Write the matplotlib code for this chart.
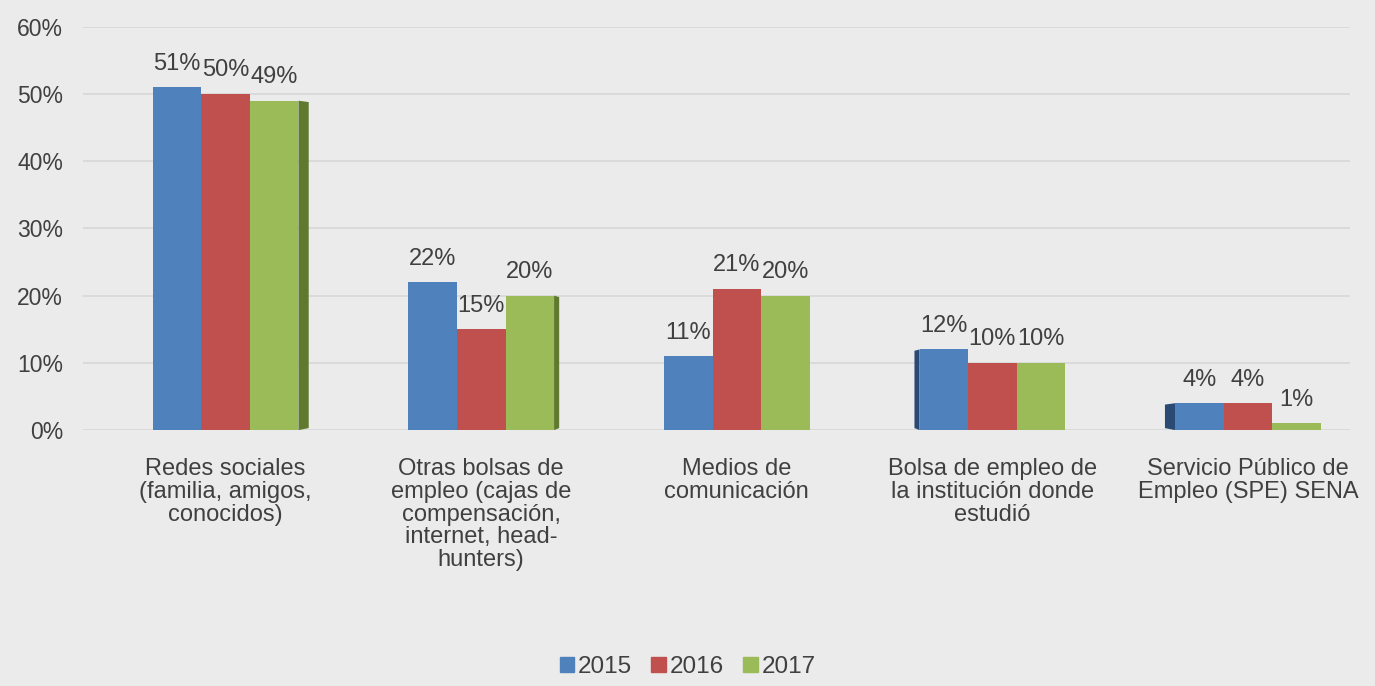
import matplotlib
matplotlib.use("Agg")
import matplotlib.pyplot as plt
from matplotlib.patches import Polygon
import numpy as np

plt.rcParams['font.family'] = ['Liberation Sans', 'DejaVu Sans']

categories = ["Redes sociales\n(familia, amigos,\nconocidos)",
              "Otras bolsas de\nempleo (cajas de\ncompensación,\ninternet, head-\nhunters)",
              "Medios de\ncomunicación",
              "Bolsa de empleo de\nla institución donde\nestudió",
              "Servicio Público de\nEmpleo (SPE) SENA"]
years = ["2015", "2016", "2017"]
v2015 = [0.51, 0.22, 0.11, 0.12, 0.04]
v2016 = [0.50, 0.15, 0.21, 0.10, 0.04]
v2017 = [0.49, 0.20, 0.20, 0.10, 0.01]
series = [v2015, v2016, v2017]

colors = ["#4f81bd", "#c0504d", "#9bbb59"]
dark = ["#2a4a75", "#8a2f2c", "#5f7a2e"]
bg = "#ebebeb"
txt = "#404040"

fig = plt.figure(figsize=(13.75, 6.86), dpi=100, facecolor=bg)
ax = fig.add_axes([0.06, 0.373, 0.922, 0.588], facecolor=bg)

x = np.arange(len(categories))
w = 0.19
for i, vals in enumerate(series):
    bars = ax.bar(x + (i - 1) * w, vals, w, color=colors[i], zorder=3)
    for j, b in enumerate(bars):
        h = b.get_height()
        ax.annotate("{:.0f}%".format(h * 100), (b.get_x() + w / 2, h),
                    xytext=(0, 9), textcoords="offset points",
                    ha="center", va="bottom", fontsize=17, color=txt)

# fake 3D side faces: right side on the left groups, left side on the right groups
depth = [0.04, 0.02, 0.0, -0.02, -0.04]
for j in range(len(categories)):
    d = depth[j]
    if d == 0:
        continue
    k = 2 if d > 0 else 0
    h = series[k][j]
    xe = x[j] + (k - 1) * w + (w / 2 if d > 0 else -w / 2)
    poly = Polygon([(xe, 0), (xe + d, 0.003), (xe + d, h - 0.002), (xe, h)],
                   closed=True, facecolor=dark[k], edgecolor="none", zorder=2)
    ax.add_patch(poly)

ax.set_xlim(-0.56, 4.4)
ax.set_ylim(0, 0.6)
ax.set_yticks(np.arange(0, 0.61, 0.1))
ax.set_yticklabels(["{:.0f}%".format(t * 100) for t in np.arange(0, 0.61, 0.1)])
ax.set_xticks(x)
ax.set_xticklabels(categories, linespacing=1.05)
ax.tick_params(axis="both", length=0, labelsize=17, colors=txt)
ax.tick_params(axis="y", labelsize=16.5, pad=14)
ax.tick_params(axis="x", pad=20)
ax.grid(axis="y", color="#d9d9d9", lw=1.3, zorder=0)
for s in ax.spines.values():
    s.set_visible(False)

handles = [plt.Rectangle((0, 0), 1, 1, color=c) for c in colors]
fig.legend(handles, years, loc="lower center", bbox_to_anchor=(0.5, -0.02),
           ncol=3, frameon=False, fontsize=17.5, handlelength=0.6, handleheight=0.6,
           handletextpad=0.15, columnspacing=0.8, labelcolor=txt)

fig.savefig("out.png", dpi=100, facecolor=bg)
